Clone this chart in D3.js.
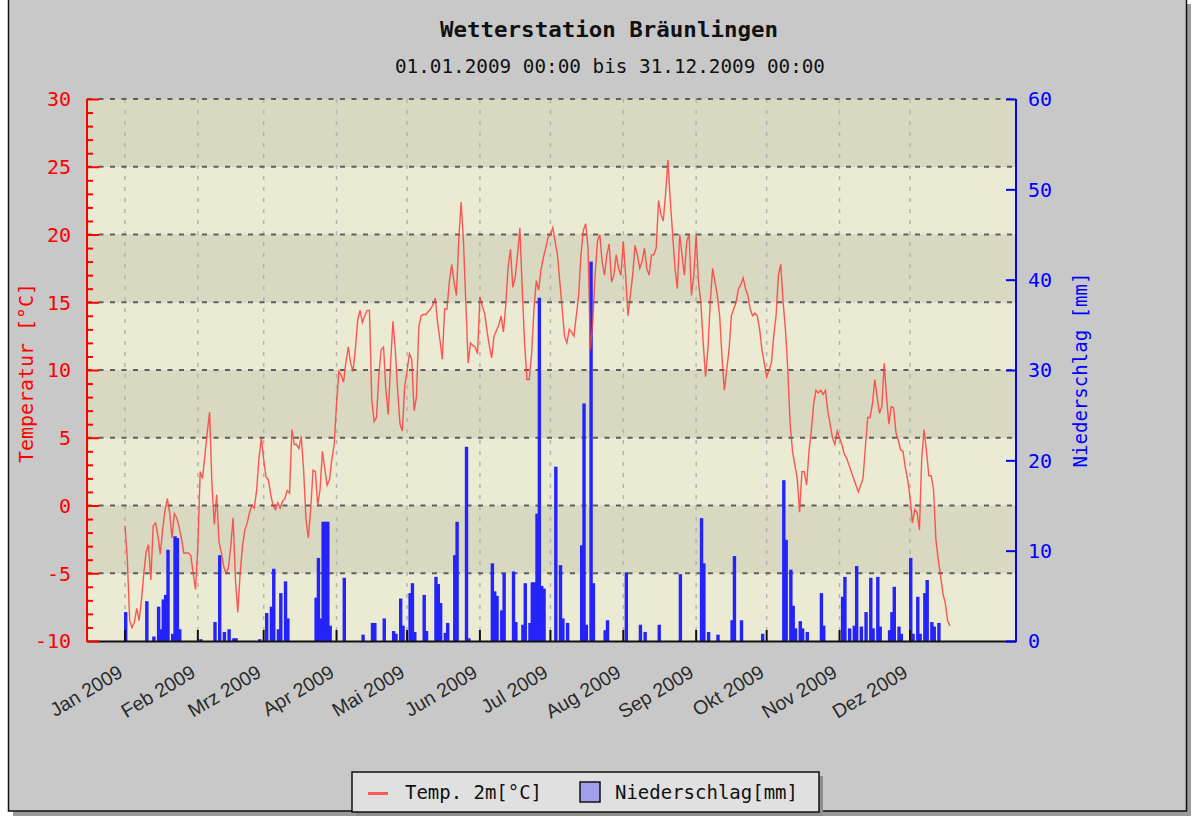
<!DOCTYPE html>
<html><head><meta charset="utf-8">
<script src="https://cdn.jsdelivr.net/npm/d3@7"></script>
<style>html,body{margin:0;padding:0;background:#fff;} svg{display:block}</style>
</head><body>
<svg id="chart" width="1201" height="817"></svg>
<script>
// ---------- data ----------
const chartTitle = "Wetterstation Bräunlingen";
const chartSubtitle = "01.01.2009 00:00 bis 31.12.2009 00:00";
const leftAxisTitle = "Temperatur [°C]";
const rightAxisTitle = "Niederschlag [mm]";
const legendTemp = "Temp. 2m[°C]";
const legendPrecip = "Niederschlag[mm]";
const monthLabels = ["Jan 2009","Feb 2009","Mrz 2009","Apr 2009","Mai 2009","Jun 2009",
                     "Jul 2009","Aug 2009","Sep 2009","Okt 2009","Nov 2009","Dez 2009"];
const tempTicks = [-10,-5,0,5,10,15,20,25,30];
const precipTicks = [0,10,20,30,40,50,60];

// daily temperature (°C), 1 Jan 2009 onward
const tempJan = [-1.5,-4,-8.5,-9,-8.6,-7.6,-8.5,-7,-5,-3.4,-2.9,-5.5,-1.5,-1.3,-2.2,-3.6,-1.8,-0.4,0.5,-0.5,-2.4,-0.6,-0.9,-1.6,-2.4,-3.5,-3.5,-3.5,-3.7,-5,-6.2];
const tempFeb = [-3,2.5,2,3.7,5.4,6.9,1.5,-1.4,0.8,-2.7,-3.5,-4.5,-5,-4.6,-3,-0.9,-5.5,-7.9,-5,-3,-1.8,-1.3,-0.5,0,-0.2,1.1,3.5,5];
const tempMar = [3.4,2.1,1.9,0.8,0,-0.3,0.2,-0.2,0.3,0.5,1.1,0.9,5.6,4.5,4.5,4.2,5.1,2.6,-1,-2.4,-0.3,2.6,2.5,0,1.2,4,2.7,1.5,1.9,3.4,4.5];
const tempApr = [7.5,9.9,9.6,9.1,10.6,11.7,10.5,9.9,11.5,13.7,14.4,13.5,14,14.4,14.4,7.8,6.2,6.5,9.6,11.5,11.7,8.5,6.7,10.5,13.6,11.5,8.5,6,5.5,8.8];
const tempMay = [9.9,11.2,10.8,7,8,13.2,14,14.1,14.1,14.3,14.5,14.8,15.3,13.5,12.2,10.8,14.5,14.5,16.5,17.8,16.5,15.5,19.6,22.4,19.5,15,10.5,12,11.8,11.7,11.2];
const tempJun = [15.4,14.7,14.2,12.9,11.8,10.9,12.5,12.9,13.3,14,12.8,14.8,17.6,18.9,16.1,16.8,18.5,20.5,16,12,9.3,9.3,11.2,14.5,16.6,15.9,17.4,18.3,19,19.8];
const tempJul = [20,20.5,19.5,18.5,16.5,14.5,12.5,12,13,12.8,12.5,14,15.5,18.5,20.3,20.8,19,11.5,13.5,17,19.5,20,18,17,18.5,19.3,16.5,17,18.5,17.5,17];
const tempAug = [19.5,17,14,15.5,17,19.2,18.5,17.5,18,19,17.5,17,18.5,18.5,19,22.5,21.5,21,23,25.5,22.5,20,17.5,16,20,18.5,17,19.5,20,15.5,17];
const tempSep = [20,16.5,15,12,9.5,11.5,15,17.5,16.5,15.5,14,11,8.5,10,11.5,14,14.5,15,16,16.3,16.8,16,15.5,14.5,14,14.2,14,13,11.5,10.5];
const tempOct = [9.5,10,10.5,12.5,14,17,17.8,15,13,10,6,4,3,2,-0.5,2.5,2.5,1.5,4,5.5,7.5,8.5,8.3,8.5,8.2,8.5,7,6,5,4.5,5.5];
const tempNov = [5,4.5,3.8,3.5,3,2.5,2,1.5,1,1.5,2,4.3,6.5,6.5,7.5,9.3,8,6.8,7.3,10.5,8,6,7.3,7.2,5.4,4.8,4.1,4,2.8,1.9];
const tempDec = [0.6,-1.3,-0.3,-0.5,-1.8,3.6,5.6,4,2.2,2.2,1.2,-2.5,-4,-5.2,-6.5,-7.2,-8.5,-8.9];

// precipitation (mm): day of year index (0 = 1 Jan) and amount
const precipDay = [0,9,12,14,15,16,17,18,20,21,22,23,
  32,38,40,42,44,46,47,
  57,60,62,63,65,66,68,69,
  81,82,83,84,85,86,87,93,101,105,106,110,114,115,117,118,
  121,122,123,127,128,132,133,134,136,137,140,141,145,146,
  156,157,158,160,161,165,166,169,170,172,173,174,175,176,177,178,
  183,185,186,188,194,195,196,198,199,204,205,
  213,219,221,227,236,
  245,246,248,252,258,259,262,271,
  280,281,283,284,285,287,288,290,296,297,
  305,306,308,310,311,313,315,317,318,320,321,325,326,327,329,330,
  334,335,337,338,340,341,343,344,346];
const precipMm = [3.2,4.4,0.5,3.8,1.3,4.6,5.1,10.1,0.8,11.6,11.4,1.3,
  0.2,2.1,9.5,1.0,1.3,0.3,0.3,
  0.2,3.1,3.8,8.0,1.3,5.3,6.6,2.5,
  4.8,9.2,2.5,13.2,13.2,13.2,1.7,7.0,0.7,2.0,2.0,2.5,1.1,0.8,4.7,1.7,
  5.3,6.4,1.0,5.1,1.1,7.1,6.3,4.2,0.9,2.0,9.5,13.2,21.5,0.3,
  8.6,5.5,5.0,3.4,7.5,7.7,2.1,1.8,6.4,2.0,6.5,6.5,14.1,38,6.1,5.8,
  19.3,8.4,2.5,2.0,10.6,26.3,1.8,42,6.4,1.2,2.3,
  7.6,1.8,1.0,1.8,7.4,
  13.6,8.6,1.0,0.7,2.3,9.4,2.3,0.8,
  17.8,11.2,7.9,3.9,1.4,2.2,1.4,1.0,5.3,1.7,
  4.9,7.1,1.4,1.7,8.3,1.6,3.2,7.0,1.4,7.1,1.6,1.2,3.2,6.0,1.6,0.8,
  9.2,0.8,4.9,0.8,5.3,6.75,2.1,1.6,2.0];

// ---------- build ----------
const temperature = [].concat(tempJan,tempFeb,tempMar,tempApr,tempMay,tempJun,
                              tempJul,tempAug,tempSep,tempOct,tempNov,tempDec);
const dayDate = d => new Date(Date.UTC(2009,0,1+d));
const tempSeries = temperature.map((v,i)=>({date:dayDate(i), v}));
const precipSeries = precipDay.map((d,i)=>({date:dayDate(d), v:precipMm[i]}));
const monthDates = monthLabels.map((_,i)=>new Date(Date.UTC(2009,i,1)));

const svg = d3.select("#chart");
const plot = {left:87, right:1016, top:99, bottom:641};
const mono = "'DejaVu Sans Mono', 'Liberation Mono', monospace";

const x = d3.scaleUtc()
  .domain([new Date(Date.UTC(2008,11,15,20)), new Date(Date.UTC(2010,0,15,2))])
  .range([plot.left, plot.right]);
const yT = d3.scaleLinear().domain([-10,30]).range([plot.bottom, plot.top]);
const yP = d3.scaleLinear().domain([0,60]).range([plot.bottom, plot.top]);

// frame with shadow
svg.append("rect").attr("x",13).attr("y",4).attr("width",1178).attr("height",812).attr("fill","#9a9a9a");
svg.append("rect").attr("x",8.5).attr("y",-1).attr("width",1178).attr("height",812)
  .attr("fill","#c8c8c8").attr("stroke","#111").attr("stroke-width",1.5);

// bands
const bands = d3.range(tempTicks.length-1).map(i=>({lo:tempTicks[i], hi:tempTicks[i+1], i}));
svg.append("g").selectAll("rect").data(bands).join("rect")
  .attr("x",plot.left).attr("width",plot.right-plot.left)
  .attr("y",d=>yT(d.hi)).attr("height",d=>yT(d.lo)-yT(d.hi))
  .attr("fill",d=>d.i%2===0 ? "#ebebd3" : "#d9d8c0");

// vertical grid
svg.append("g").selectAll("line").data(monthDates).join("line")
  .attr("x1",d=>x(d)).attr("x2",d=>x(d)).attr("y1",plot.top).attr("y2",plot.bottom)
  .attr("stroke","#b4b4b4").attr("stroke-width",1.5).attr("stroke-dasharray","4,7");

// horizontal grid
svg.append("g").selectAll("line").data(tempTicks.filter(t=>t>-10)).join("line")
  .attr("x1",plot.left).attr("x2",plot.right).attr("y1",d=>yT(d)).attr("y2",d=>yT(d))
  .attr("stroke","#5e5e5e").attr("stroke-width",2).attr("stroke-dasharray","5,6.5");

// bars
svg.append("g").selectAll("rect").data(precipSeries).join("rect")
  .attr("x",d=>x(d.date)-1).attr("width",3.4)
  .attr("y",d=>yP(d.v)).attr("height",d=>yP(0)-yP(d.v))
  .attr("fill","#2424fa");

// temperature line
svg.append("path").datum(tempSeries)
  .attr("d", d3.line().x(d=>x(d.date)).y(d=>yT(d.v)))
  .attr("fill","none").attr("stroke","#ff3b3b").attr("stroke-opacity",0.85).attr("stroke-width",1.4);

// bottom axis
const xAxis = d3.axisBottom(x).tickValues(monthDates).tickSize(0).tickFormat("");
const gx = svg.append("g").attr("transform",`translate(0,${plot.bottom})`).call(xAxis);
gx.select(".domain").attr("stroke","#111").attr("stroke-width",2);
svg.append("g").selectAll("line").data(monthDates).join("line")
  .attr("x1",d=>x(d)).attr("x2",d=>x(d)).attr("y1",plot.bottom).attr("y2",plot.bottom-11)
  .attr("stroke","#111").attr("stroke-width",2);
svg.append("g").selectAll("text").data(monthDates).join("text")
  .attr("transform",d=>`translate(${x(d)-1},676) rotate(-31)`)
  .attr("text-anchor","end").attr("font-family","'Liberation Sans', Arial, sans-serif")
  .attr("font-size",19.5).attr("fill","#2a2a2a")
  .text((d,i)=>monthLabels[i]);

// left axis
const yAxisL = d3.axisRight(yT).tickValues(d3.range(-10,31,1)).tickFormat("").tickSize(6);
const gl = svg.append("g").attr("transform",`translate(${plot.left},0)`).call(yAxisL);
gl.select(".domain").remove();
gl.selectAll(".tick line").attr("stroke","#ff0000").attr("stroke-width",2)
  .attr("x2",d=>d%5===0?12:6);
svg.append("line").attr("x1",plot.left).attr("x2",plot.left).attr("y1",plot.top).attr("y2",plot.bottom+1)
  .attr("stroke","#ff0000").attr("stroke-width",2);
svg.append("g").selectAll("text").data(tempTicks).join("text")
  .attr("x",71).attr("y",d=>yT(d)).attr("dy","0.37em").attr("text-anchor","end")
  .attr("font-family",mono).attr("font-size",20).attr("fill","#ff0000")
  .text(d=>d);
svg.append("text").attr("transform",`translate(33,373) rotate(-90)`)
  .attr("text-anchor","middle").attr("font-family",mono).attr("font-size",19)
  .attr("fill","#ff0000").attr("textLength",180).attr("lengthAdjust","spacingAndGlyphs")
  .text(leftAxisTitle);

// right axis
const yAxisR = d3.axisLeft(yP).tickValues(precipTicks).tickFormat("").tickSize(10);
const gr = svg.append("g").attr("transform",`translate(${plot.right},0)`).call(yAxisR);
gr.select(".domain").remove();
gr.selectAll(".tick line").attr("stroke","#0000ff").attr("stroke-width",2);
svg.append("line").attr("x1",plot.right).attr("x2",plot.right).attr("y1",plot.top).attr("y2",plot.bottom+1)
  .attr("stroke","#0000ff").attr("stroke-width",2);
svg.append("g").selectAll("text").data(precipTicks).join("text")
  .attr("x",1028).attr("y",d=>yP(d)).attr("dy","0.37em").attr("text-anchor","start")
  .attr("font-family",mono).attr("font-size",20).attr("fill","#0000ff")
  .text(d=>d);
svg.append("text").attr("transform",`translate(1087,370) rotate(-90)`)
  .attr("text-anchor","middle").attr("font-family",mono).attr("font-size",19)
  .attr("fill","#0000ff").attr("textLength",195).attr("lengthAdjust","spacingAndGlyphs")
  .text(rightAxisTitle);

// titles
svg.append("text").attr("x",609).attr("y",37).attr("text-anchor","middle")
  .attr("font-family",mono).attr("font-weight","bold").attr("font-size",21).attr("fill","#111")
  .attr("textLength",338).attr("lengthAdjust","spacingAndGlyphs").text(chartTitle);
svg.append("text").attr("x",610).attr("y",73).attr("text-anchor","middle")
  .attr("font-family",mono).attr("font-size",19).attr("fill","#111")
  .attr("textLength",430).attr("lengthAdjust","spacingAndGlyphs").text(chartSubtitle);

// legend
const lg = svg.append("g");
lg.append("rect").attr("x",356).attr("y",776).attr("width",467).attr("height",40).attr("fill","#8e8e8e");
lg.append("rect").attr("x",352).attr("y",772).attr("width",467).attr("height",40)
  .attr("fill","#e0e0e0").attr("stroke","#111").attr("stroke-width",1.5);
lg.append("line").attr("x1",368).attr("x2",388).attr("y1",793.5).attr("y2",793.5)
  .attr("stroke","#ff5a5a").attr("stroke-width",3);
lg.append("text").attr("x",405).attr("y",799).attr("font-family",mono).attr("font-size",19)
  .attr("fill","#111").attr("textLength",137).attr("lengthAdjust","spacingAndGlyphs").text(legendTemp);
lg.append("rect").attr("x",580).attr("y",782).attr("width",20).attr("height",20)
  .attr("fill","#a0a0ea").attr("stroke","#111").attr("stroke-width",1.5);
lg.append("text").attr("x",615).attr("y",799).attr("font-family",mono).attr("font-size",19)
  .attr("fill","#111").attr("textLength",183).attr("lengthAdjust","spacingAndGlyphs").text(legendPrecip);
</script>
</body></html>
